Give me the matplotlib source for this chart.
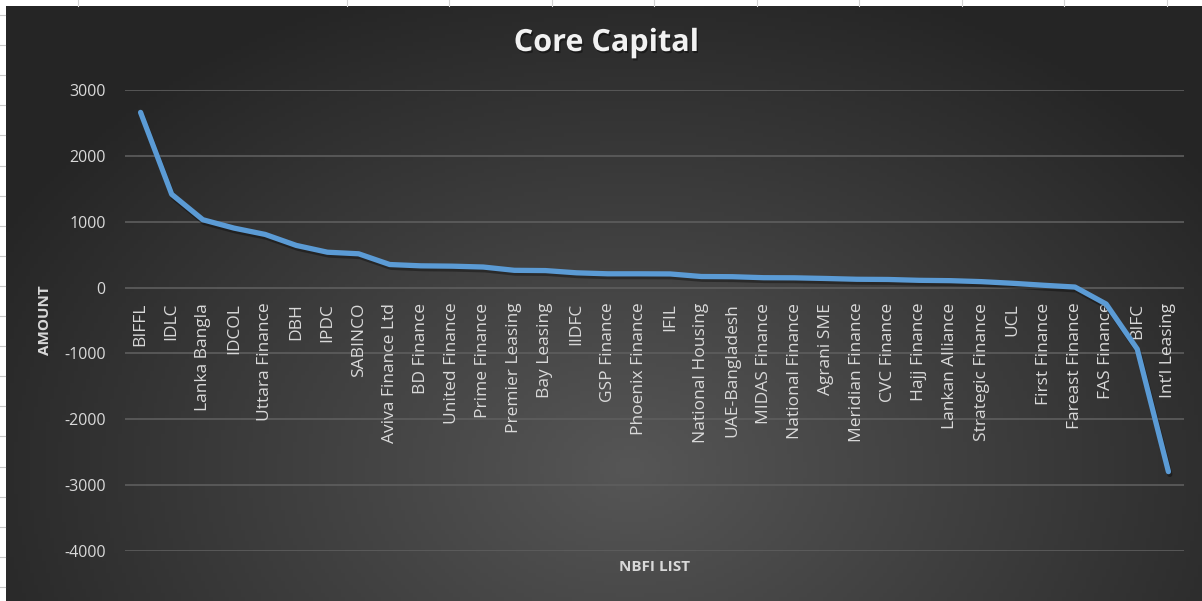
import numpy as np
import matplotlib
matplotlib.use("Agg")
import matplotlib.pyplot as plt
from matplotlib.lines import Line2D
import matplotlib.patheffects as pe

# data
nbfi = ["BIFFL", "IDLC", "Lanka Bangla", "IDCOL", "Uttara Finance", "DBH", "IPDC",
        "SABINCO", "Aviva Finance Ltd", "BD Finance", "United Finance", "Prime Finance",
        "Premier Leasing", "Bay Leasing", "IIDFC", "GSP Finance", "Phoenix Finance",
        "IFIL", "National Housing", "UAE-Bangladesh", "MIDAS Finance", "National Finance",
        "Agrani SME", "Meridian Finance", "CVC Finance", "Hajj Finance", "Lankan Alliance",
        "Strategic Finance", "UCL", "First Finance", "Fareast Finance", "FAS Finance",
        "BIFC", "Int\u2019l Leasing"]
core_capital = [2660, 1416, 1030, 903, 807, 640, 537, 513, 350, 330, 325, 312,
                262, 258, 224, 209, 209, 207, 168, 165, 150, 148, 138, 126,
                123, 110, 105, 90, 65, 35, 8, -250, -935, -2795]
yticks = [-4000, -3000, -2000, -1000, 0, 1000, 2000, 3000]

W, H = 1202, 601
fig = plt.figure(figsize=(W / 100, H / 100), dpi=100, facecolor="white")

# spreadsheet cells around the chart
for cx in [78, 347, 449, 552, 654, 757, 859, 962, 1064, 1167]:
    fig.add_artist(Line2D([cx / W, cx / W], [1 - 6 / H, 1], color="#d4d4d4", lw=0.8))
for ry in np.arange(15, 601, 30.1):
    fig.add_artist(Line2D([0, 5 / W], [1 - ry / H, 1 - ry / H], color="#c8c8c8", lw=0.8))

# chart background with radial gradient
x0, y0 = 6, 6
bg = fig.add_axes([x0 / W, 0, 1 - x0 / W, 1 - y0 / H])
gx, gy = np.meshgrid(np.linspace(x0, W, 300), np.linspace(y0, H, 150))
d = np.sqrt(((gx - 630) / 720) ** 2 + ((gy - 470) / 520) ** 2)
d = np.clip(d, 0, 1)
c_in, c_out = 0x56 / 255, 0x25 / 255
img = c_in + (c_out - c_in) * d
bg.imshow(np.dstack([img, img, img]), aspect="auto", extent=[0, 1, 0, 1])
bg.axis("off")

# plot area
L, R, T, B = 125, 1184, 90, 551
ax = fig.add_axes([L / W, 1 - B / H, (R - L) / W, (B - T) / H])
ax.patch.set_alpha(0)
x = np.arange(len(nbfi))
ax.plot(x, core_capital, color="#5b9bd5", lw=3.8, solid_capstyle="round",
        solid_joinstyle="round",
        path_effects=[pe.SimpleLineShadow(offset=(1, -2), shadow_color="black", alpha=0.35),
                      pe.Normal()], zorder=3)
ax.set_xlim(-0.5, len(nbfi) - 0.5)
ax.set_ylim(-4000, 3000)
ax.set_yticks(yticks)
ax.set_yticklabels([str(v) for v in yticks])
ax.grid(axis="y", color="#5e5e5e", lw=1.2)
ax.yaxis.set_zorder(0.5)
ax.xaxis.set_zorder(2)
for s in ax.spines.values():
    s.set_visible(False)
ax.spines["bottom"].set_position(("data", 0))
ax.set_xticks(x)
ax.set_xticklabels(nbfi, rotation=90, va="top", ha="center")
ax.tick_params(axis="x", length=0, pad=11, labelsize=12.5, labelcolor="#d9d9d9")
ax.tick_params(axis="y", length=0, pad=14, labelsize=11.5, labelcolor="#d9d9d9")
for lab in ax.get_xticklabels() + ax.get_yticklabels():
    lab.set_family("Open Sans")

fig.text(606 / W, 1 - 43 / H, "Core Capital", ha="center", va="center",
         fontsize=22, fontweight="bold", color="#f2f2f2", family="Open Sans",
         path_effects=[pe.withSimplePatchShadow(offset=(1, -1.5), shadow_rgbFace="black", alpha=0.4)])
fig.text(45 / W, 1 - 320 / H, "AMOUNT", rotation=90, ha="center", va="center",
         fontsize=11, fontweight="bold", color="#d9d9d9", family="Open Sans")
fig.text((L + R) / 2 / W, 1 - 567 / H, "NBFI LIST", ha="center", va="center",
         fontsize=11, fontweight="bold", color="#d9d9d9", family="Open Sans")

fig.savefig("out.png", dpi=100, facecolor="white")
